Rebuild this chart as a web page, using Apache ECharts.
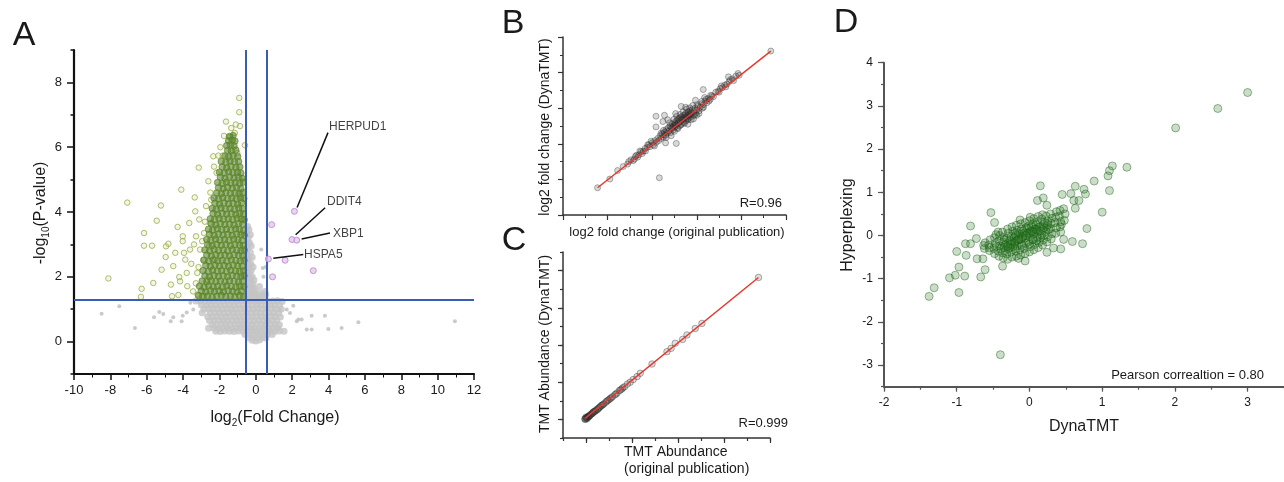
<!DOCTYPE html>
<html>
<head>
<meta charset="utf-8">
<script src="https://cdn.jsdelivr.net/npm/echarts@6/dist/echarts.min.js"></script>
<style>html,body{margin:0;padding:0;background:#fff}#c{width:1284px;height:482px}</style>
</head>
<body>
<div id="c"></div>
<script>
// ---------------- DATA ----------------
// Panel A tick labels
const aXTicks = [-10, -8, -6, -4, -2, 0, 2, 4, 6, 8, 10, 12];
const aYTicks = [0, 2, 4, 6, 8];
// Panel A thresholds
const aFoldCut = [-0.585, 0.585];
const aPCut = 1.301;
// Panel A significant (green) points: sparse outer points
const aGreenSparse = [
  [-8.11,1.95],[-7.07,4.29],[-6.32,1.38],[-6.28,1.63],[-6.15,3.35],[-6.15,2.96],[-5.71,2.96],[-5.64,1.81],
  [-5.45,3.73],[-5.22,4.20],[-5.18,2.22],[-4.96,2.61],[-4.94,2.94],[-4.81,3.02],[-4.67,1.76],[-4.61,1.40],
  [-4.54,2.33],[-4.43,2.74],[-4.30,3.54],[-4.26,1.44],[-4.21,1.99],[-4.17,1.86],[-4.10,4.69],[-4.02,3.25],
  [-4.02,3.10],[-3.95,2.74],[-3.88,2.53],[-3.80,2.12],[-3.77,1.71],[-3.66,3.66],[-3.62,2.84],[-3.36,4.45],
  [-3.33,4.02],[-3.29,3.25],[-3.22,2.12],[-3.14,5.37],[-3.11,3.77],[-3.07,2.84],[-2.96,1.40],[-2.89,2.53],
  [-2.85,3.35],[-2.74,4.18],[-2.67,1.91],[-2.61,4.95],[-2.56,2.94],[-2.52,3.66],[-2.45,4.38],[-2.34,5.72],
  [-2.25,2.53],[-2.16,5.21],[-2.06,5.74],[-1.82,5.74],[-1.64,6.79],[-1.42,6.32],[-1.35,6.59],[-1.16,6.44],
  [-1.02,5.82],[-0.91,7.52],[-0.91,7.08],[-0.87,6.65],[-0.60,6.06],[-3.45,1.55],[-3.55,2.4],[-3.4,3.0],
  [-3.2,1.45],[-3.3,1.8],[-3.15,2.3],[-2.95,3.1],[-2.8,3.7],[-2.5,4.6],[-2.3,5.4],[-1.95,6.0],[-1.75,6.35],[-1.1,6.7]
];
// Panel A significant (green) points: dense core
const aGreenDense = [
  [-3.15,1.42],[-2.9,1.39],[-2.65,1.41],[-2.4,1.38],[-2.15,1.40],[-1.9,1.43],[-1.65,1.39],[-1.4,1.41],[-1.15,1.38],[-0.9,1.42],[-0.68,1.40],
  [-3.0,1.56],[-2.75,1.53],[-2.5,1.57],[-2.28,1.54],[-2.02,1.56],[-1.78,1.53],[-1.52,1.57],[-1.28,1.55],[-1.03,1.53],[-0.8,1.56],
  [-3.1,1.71],[-2.85,1.68],[-2.6,1.72],[-2.35,1.69],[-2.1,1.71],[-1.85,1.68],[-1.6,1.72],[-1.35,1.70],[-1.1,1.68],[-0.88,1.71],[-0.66,1.69],
  [-2.95,1.87],[-2.7,1.84],[-2.45,1.88],[-2.2,1.85],[-1.95,1.87],[-1.7,1.84],[-1.45,1.88],[-1.2,1.86],[-0.95,1.84],[-0.72,1.87],
  [-2.8,2.03],[-2.55,2.0],[-2.3,2.04],[-2.05,2.01],[-1.8,2.03],[-1.55,2.0],[-1.3,2.04],[-1.05,2.02],[-0.82,2.0],[-0.65,2.03],
  [-2.9,2.19],[-2.62,2.16],[-2.38,2.2],[-2.12,2.17],[-1.88,2.19],[-1.62,2.16],[-1.38,2.2],[-1.12,2.18],[-0.9,2.16],[-0.68,2.19],
  [-2.75,2.35],[-2.5,2.32],[-2.25,2.36],[-2.0,2.33],[-1.75,2.35],[-1.5,2.32],[-1.25,2.36],[-1.0,2.34],[-0.76,2.32],
  [-2.85,2.51],[-2.6,2.48],[-2.35,2.52],[-2.1,2.49],[-1.85,2.51],[-1.6,2.48],[-1.35,2.52],[-1.1,2.5],[-0.86,2.48],[-0.65,2.51],
  [-2.7,2.67],[-2.45,2.64],[-2.2,2.68],[-1.95,2.65],[-1.7,2.67],[-1.45,2.64],[-1.2,2.68],[-0.95,2.66],[-0.72,2.64],
  [-2.8,2.83],[-2.55,2.8],[-2.3,2.84],[-2.05,2.81],[-1.8,2.83],[-1.55,2.8],[-1.3,2.84],[-1.05,2.82],[-0.82,2.8],[-0.64,2.83],
  [-2.65,2.99],[-2.4,2.96],[-2.15,3.0],[-1.9,2.97],[-1.65,2.99],[-1.4,2.96],[-1.15,3.0],[-0.9,2.98],[-0.7,2.96],
  [-2.7,3.15],[-2.48,3.12],[-2.22,3.16],[-1.98,3.13],[-1.72,3.15],[-1.48,3.12],[-1.22,3.16],[-0.98,3.14],[-0.76,3.12],
  [-2.55,3.31],[-2.3,3.28],[-2.05,3.32],[-1.8,3.29],[-1.55,3.31],[-1.3,3.28],[-1.05,3.32],[-0.82,3.3],[-0.64,3.28],
  [-2.6,3.47],[-2.38,3.44],[-2.12,3.48],[-1.88,3.45],[-1.62,3.47],[-1.38,3.44],[-1.12,3.48],[-0.9,3.46],[-0.68,3.44],
  [-2.45,3.63],[-2.2,3.6],[-1.95,3.64],[-1.7,3.61],[-1.45,3.63],[-1.2,3.6],[-0.95,3.64],[-0.72,3.62],
  [-2.5,3.79],[-2.28,3.76],[-2.02,3.8],[-1.78,3.77],[-1.52,3.79],[-1.28,3.76],[-1.03,3.8],[-0.8,3.78],[-0.64,3.76],
  [-2.35,3.95],[-2.1,3.92],[-1.85,3.96],[-1.6,3.93],[-1.35,3.95],[-1.1,3.92],[-0.88,3.96],[-0.68,3.94],
  [-2.4,4.11],[-2.18,4.08],[-1.92,4.12],[-1.68,4.09],[-1.42,4.11],[-1.18,4.08],[-0.94,4.12],[-0.72,4.1],
  [-2.25,4.27],[-2.0,4.24],[-1.75,4.28],[-1.5,4.25],[-1.25,4.27],[-1.0,4.24],[-0.78,4.28],
  [-2.3,4.43],[-2.06,4.4],[-1.82,4.44],[-1.56,4.41],[-1.32,4.43],[-1.08,4.4],[-0.85,4.44],[-0.66,4.42],
  [-2.15,4.59],[-1.9,4.56],[-1.65,4.6],[-1.4,4.57],[-1.15,4.59],[-0.92,4.56],[-0.72,4.6],
  [-2.05,4.75],[-1.8,4.72],[-1.55,4.76],[-1.3,4.73],[-1.06,4.75],[-0.82,4.72],
  [-2.1,4.91],[-1.85,4.88],[-1.62,4.92],[-1.38,4.89],[-1.14,4.91],[-0.9,4.88],[-0.7,4.92],
  [-1.95,5.07],[-1.7,5.04],[-1.45,5.08],[-1.2,5.05],[-0.96,5.07],[-0.76,5.04],
  [-2.0,5.23],[-1.75,5.2],[-1.5,5.24],[-1.26,5.21],[-1.02,5.23],[-0.82,5.2],
  [-1.85,5.39],[-1.6,5.36],[-1.36,5.4],[-1.1,5.37],[-0.88,5.39],
  [-1.9,5.56],[-1.65,5.53],[-1.42,5.57],[-1.18,5.54],[-0.95,5.56],
  [-1.7,5.73],[-1.48,5.7],[-1.25,5.74],[-1.0,5.71],
  [-1.55,5.9],[-1.35,5.88],[-1.1,5.91],
  [-1.6,6.05],[-1.4,6.07],[-1.2,6.04],
  [-1.5,6.2],[-1.3,6.22],[-1.15,6.19],
  [-1.45,6.33],[-1.25,6.36]
];
// Panel A non-significant (grey) points: isolated
const aGreyOut = [
  [-8.48,0.86],[-7.51,1.09],[-6.65,0.42],[-5.6,0.75],[-5.31,0.91],[-5.09,0.85],[-4.54,0.75],[-4.02,0.80],
  [-4.08,0.63],[-4.68,0.63],[-3.44,0.99],[2.06,1.11],[1.88,0.88],[2.25,0.63],[3.07,0.80],[3.80,0.80],
  [2.8,0.37],[3.07,0.37],[3.99,0.39],[4.72,0.42],[5.64,0.60],[10.95,0.63],[2.34,0.68],[2.52,0.68],
  [1.70,0.99],[1.33,0.97],[-3.6,1.2],[-3.8,0.9],[0.3,2.84],[0.38,2.27],[0.42,2.0],[0.55,2.3]
];
// Panel A non-significant (grey) points: dense mass
const aGrey = [
  [-3.3,1.25],[-3.05,1.26],[-2.8,1.24],[-2.55,1.25],[-2.3,1.26],[-2.05,1.24],[-1.8,1.25],[-1.55,1.26],[-1.3,1.24],[-1.05,1.25],[-0.8,1.26],
  [-3.0,1.13],[-2.7,1.12],[-2.45,1.14],[-2.2,1.13],[-1.95,1.12],[-1.7,1.14],[-1.45,1.13],[-1.2,1.12],[-0.95,1.14],[-0.7,1.13],
  [-2.85,1.01],[-2.6,1.0],[-2.35,1.02],[-2.1,1.01],[-1.85,1.0],[-1.6,1.02],[-1.35,1.01],[-1.1,1.0],[-0.85,1.02],[-0.62,1.01],
  [-2.95,0.89],[-2.5,0.88],[-2.25,0.9],[-2.0,0.89],[-1.75,0.88],[-1.5,0.9],[-1.25,0.89],[-1.0,0.88],[-0.75,0.9],
  [-2.65,0.77],[-2.4,0.76],[-2.15,0.78],[-1.9,0.77],[-1.65,0.76],[-1.4,0.78],[-1.15,0.77],[-0.9,0.76],[-0.68,0.78],
  [-2.55,0.65],[-2.3,0.64],[-2.05,0.66],[-1.8,0.65],[-1.55,0.64],[-1.3,0.66],[-1.05,0.65],[-0.8,0.64],[-0.6,0.66],
  [-2.4,0.53],[-2.15,0.52],[-1.9,0.54],[-1.65,0.53],[-1.4,0.52],[-1.15,0.54],[-0.9,0.53],[-0.7,0.52],
  [-2.6,0.41],[-2.3,0.42],[-2.05,0.4],[-1.8,0.41],[-1.55,0.42],[-1.3,0.4],[-1.05,0.41],[-0.82,0.42],
  [-2.2,0.32],[-1.95,0.31],[-1.7,0.33],[-1.45,0.32],[-1.2,0.31],[-0.95,0.33],
  [-0.55,1.25],[-0.3,1.26],[-0.05,1.24],[0.2,1.25],[0.45,1.26],[0.7,1.24],[0.95,1.25],[1.2,1.26],[1.45,1.24],
  [-0.45,1.13],[-0.2,1.12],[0.05,1.14],[0.3,1.13],[0.55,1.12],[0.8,1.14],[1.05,1.13],[1.3,1.12],
  [-0.4,1.01],[-0.15,1.0],[0.1,1.02],[0.35,1.01],[0.6,1.0],[0.85,1.02],[1.1,1.01],[1.4,1.0],
  [-0.5,0.89],[-0.25,0.88],[0.0,0.9],[0.25,0.89],[0.5,0.88],[0.75,0.9],[1.0,0.89],[1.25,0.88],
  [-0.45,0.77],[-0.2,0.76],[0.05,0.78],[0.3,0.77],[0.55,0.76],[0.8,0.78],[1.05,0.77],[1.35,0.76],
  [-0.35,0.65],[-0.1,0.64],[0.15,0.66],[0.4,0.65],[0.65,0.64],[0.9,0.66],[1.15,0.65],
  [-0.45,0.53],[-0.2,0.52],[0.05,0.54],[0.3,0.53],[0.55,0.52],[0.8,0.54],[1.05,0.53],[1.3,0.52],
  [-0.55,0.41],[-0.3,0.42],[-0.05,0.4],[0.2,0.41],[0.45,0.42],[0.7,0.4],[0.95,0.41],[1.2,0.42],
  [-0.7,0.32],[-0.45,0.31],[-0.2,0.33],[0.05,0.32],[0.3,0.31],[0.55,0.33],[0.8,0.32],[1.05,0.31],[1.3,0.33],[1.55,0.32],
  [-0.6,0.22],[-0.35,0.21],[-0.1,0.23],[0.15,0.22],[0.4,0.21],[0.65,0.23],[0.9,0.22],
  [-0.4,0.12],[-0.15,0.11],[0.1,0.13],[0.35,0.12],[0.55,0.11],
  [-0.2,0.04],[0.0,0.02],[0.2,0.05],
  [-0.45,3.55],[-0.38,3.45],[-0.3,3.3],[-0.42,3.2],[-0.35,3.05],[-0.25,2.95],[-0.45,2.9],[-0.3,2.75],
  [-0.5,2.7],[-0.2,2.6],[-0.38,2.55],[-0.52,2.45],[-0.28,2.4],[-0.15,2.3],[-0.45,2.25],[-0.35,2.12],
  [-0.55,2.05],[-0.2,2.0],[-0.1,1.9],[-0.42,1.88],[-0.3,1.8],[-0.55,1.72],[-0.18,1.68],[-0.05,1.6],
  [-0.45,1.58],[-0.3,1.5],[-0.55,1.42],[-0.12,1.45],[0.05,1.38],[-0.4,1.35],[-0.22,1.32],[0.1,1.3],
  [-0.5,3.35],[-0.4,3.0],[-0.5,2.55],[-0.35,2.35],[-0.25,2.2],[-0.5,2.15],[-0.4,1.98],[-0.28,1.95],
  [-0.15,1.78],[-0.4,1.7],[-0.25,1.62],[-0.1,1.52],[-0.5,1.5],[0.0,1.45],[-0.3,1.4],[0.2,1.38],
  [0.5,1.55],[0.55,1.45],[0.45,1.35],[0.25,1.5],[0.2,1.7],[0.35,1.42]
];
// Panel A highlighted (pink) points
const aPink = [[2.12,4.02],[1.99,3.15],[2.25,3.13],[0.69,2.55],[0.87,3.61],[1.61,2.51],[0.92,2.0],[3.16,2.19]];
// Panel A gene labels and leader lines
const aLabelNames = ['HERPUD1', 'DDIT4', 'XBP1', 'HSPA5'];
const aLabelPos = [[3.97,6.64],[3.86,4.32],[4.19,3.33],[2.6,2.69]];
const aLeaders = [
  [[2.27,4.14],[3.97,6.45]],
  [[2.19,3.30],[3.81,4.13]],
  [[2.52,3.17],[4.08,3.35]],
  [[0.96,2.57],[2.61,2.69]]
];

// Panel B points (log2 fold change, original vs DynaTMT)
const bPoints = [
  [1.55,1.53],[2.1,2.02],[2.45,2.5],[2.7,2.72],[2.9,2.86],[3.05,3.1],[3.2,3.14],[3.3,3.36],[3.4,3.38],[3.5,3.56],
  [3.6,3.58],[3.68,3.74],[3.78,3.8],[3.85,3.95],[3.9,3.84],[4.0,4.06],[4.05,3.94],[4.12,4.18],[4.18,4.08],[4.25,4.3],
  [4.3,4.18],[4.35,4.45],[4.4,4.3],[4.45,4.55],[4.5,4.38],[4.55,4.65],[4.6,4.48],[4.62,4.8],[4.68,4.6],[4.72,4.9],
  [4.75,4.7],[4.8,5.0],[4.82,4.62],[4.88,4.85],[4.9,5.1],[4.95,4.78],[5.0,5.2],[5.02,4.95],[5.06,5.05],[5.1,5.3],
  [5.12,4.9],[5.16,5.15],[5.2,5.4],[5.22,5.0],[5.26,5.25],[5.3,5.5],[5.32,5.1],[5.36,5.35],[5.4,5.6],[5.42,5.2],
  [5.46,5.45],[5.5,5.7],[5.52,5.3],[5.56,5.55],[5.6,5.78],[5.62,5.42],[5.66,5.62],[5.7,5.85],[5.72,5.5],[5.76,5.7],
  [5.8,5.92],[5.84,5.6],[5.88,5.8],[5.92,6.0],[5.96,5.72],[6.0,5.9],[6.05,6.1],[6.1,5.85],[6.15,6.05],[6.2,6.25],
  [6.25,6.0],[6.3,6.2],[6.38,6.4],[6.45,6.3],[6.52,6.55],[6.6,6.5],[6.68,6.7],[6.75,6.65],[6.85,6.9],[6.95,6.95],
  [7.05,7.1],[7.15,7.15],[7.25,7.3],[7.35,7.35],[7.45,7.5],[7.6,7.65],[7.75,7.8],[7.9,7.85],[9.32,9.21],
  [4.17,5.55],[4.55,5.6],[4.17,4.95],[4.32,2.09],[5.08,4.02],[6.29,7.05],[7.42,7.76],[5.94,6.45],[4.6,4.05],
  [5.3,6.1],[4.48,5.25],[5.05,5.7],[5.6,5.1],[5.85,5.4],[4.85,4.45],[6.35,6.6],[5.5,6.05],[4.7,5.35],[6.0,5.6],
  [4.5,4.75],[4.62,4.35],[4.78,5.18],[4.85,4.95],[4.98,5.38],[5.0,4.7],[5.1,5.55],[5.15,4.85],[5.25,5.65],[5.28,5.05],
  [5.38,5.8],[5.45,5.15],[5.55,5.95],[5.6,5.35],[5.68,6.02],[5.75,5.35],[5.82,6.15],[5.9,5.6],[6.02,6.2],[6.1,5.7],
  [5.2,5.2],[5.35,5.4],[5.45,5.6],[5.55,5.45],[5.65,5.8],[5.75,5.75],[4.95,5.0],[5.05,5.15],[5.25,5.45],[5.48,5.5],
  [4.4,4.6],[4.52,4.5],[4.66,4.72],[6.22,6.38],[6.3,6.05],[6.42,6.5],[6.55,6.4],[6.62,6.72],[3.95,4.15],[4.1,3.88],
  [3.7,3.6],[3.8,3.95],[3.55,3.45],[3.45,3.6],[3.35,3.25],[3.25,3.3],[3.15,3.05],[2.95,3.0],[7.0,6.9],[7.1,7.25],
  [7.3,7.2],[7.5,7.6],[7.65,7.55],[7.85,7.95],[5.15,5.35],[5.4,5.4],[5.6,5.6],[5.7,5.65],[5.0,5.05],[4.9,4.9]
];
const bFit = [[1.55,1.53],[9.32,9.21]];
const bStat = 'R=0.96';

// Panel C points (TMT abundance)
const cPoints = [
  [0.95,1.02],[0.98,1.06],[1.02,1.08],[1.06,1.1],[1.1,1.16],[1.15,1.2],[1.2,1.26],[1.25,1.3],[1.3,1.36],[1.36,1.42],
  [1.42,1.48],[1.48,1.55],[1.55,1.6],[1.62,1.68],[1.7,1.76],[1.78,1.84],[1.86,1.92],[1.95,2.02],[2.05,2.12],[2.15,2.22],
  [2.25,2.32],[2.35,2.42],[2.45,2.55],[2.56,2.64],[2.68,2.76],[2.8,2.9],[2.92,3.0],[3.05,3.14],[3.22,3.30],[3.36,3.48],
  [3.87,3.98],[4.52,4.64],[4.88,5.09],[5.39,5.54],[5.75,5.89],[6.04,6.16],[8.5,8.63],[1.0,1.12],[1.12,1.14],[1.32,1.4],
  [1.5,1.52],[1.66,1.74],[2.0,2.06],[2.6,2.7],[4.7,4.82],[5.2,5.3],[0.97,1.0],[1.04,1.03],[1.08,1.14],[1.18,1.22],
  [1.28,1.33],[1.4,1.44],[1.58,1.64],[1.74,1.8],[1.9,1.98],[2.1,2.16],[2.3,2.36],[2.5,2.58]
];
const cFit = [[0.97,1.07],[8.5,8.63]];
const cStat = 'R=0.999';

// Panel D points (DynaTMT vs Hyperplexing)
const dXTicks = [-2, -1, 0, 1, 2, 3];
const dYTicks = [-3, -2, -1, 0, 1, 2, 3, 4];
const dPoints = [
  [3.0,3.31],[2.59,2.94],[2.01,2.49],[1.34,1.58],[1.14,1.61],[1.10,1.50],[1.08,1.38],[0.89,1.26],[1.10,1.04],
  [1.0,0.54],[0.75,1.07],[0.77,0.96],[0.63,1.14],[0.57,0.97],[0.45,0.95],[0.68,0.81],[0.61,0.81],[0.63,0.63],
  [0.79,0.16],[0.73,-0.19],[0.59,-0.14],[0.47,-0.09],[0.43,0.08],[0.44,0.26],[0.43,-0.31],[0.33,-0.29],
  [0.24,-0.39],[0.15,1.15],[0.19,0.87],[0.11,0.81],[0.24,0.70],[-0.40,-2.76],[-0.53,0.53],[-0.48,0.30],
  [-0.81,0.22],[-0.88,-0.19],[-0.81,-0.19],[-0.73,-0.07],[-1.0,-0.37],[-0.87,-0.46],[-0.72,-0.54],[-0.64,-0.54],
  [-0.97,-0.73],[-0.61,-0.79],[-1.02,-0.92],[-1.10,-0.98],[-0.89,-0.94],[-0.67,-0.96],[-1.31,-1.21],[-1.38,-1.41],
  [-0.97,-1.32],[-0.37,-0.71],[-0.06,-0.59],[-0.15,-0.53],[0.15,-0.05],[0.26,0.14],
  [-0.62,-0.30],[-0.61,-0.17],[-0.63,-0.23],
  [-0.55,-0.35],[-0.56,-0.22],[-0.54,-0.10],[-0.55,-0.28],
  [-0.48,-0.42],[-0.49,-0.30],[-0.47,-0.18],[-0.48,-0.05],[-0.46,0.02],
  [-0.42,-0.48],[-0.43,-0.36],[-0.41,-0.24],[-0.42,-0.12],[-0.41,0.0],[-0.43,0.08],
  [-0.36,-0.52],[-0.37,-0.40],[-0.35,-0.28],[-0.36,-0.16],[-0.35,-0.04],[-0.37,0.08],
  [-0.30,-0.55],[-0.31,-0.43],[-0.29,-0.31],[-0.30,-0.19],[-0.31,-0.07],[-0.29,0.05],[-0.30,0.15],
  [-0.24,-0.50],[-0.25,-0.38],[-0.23,-0.26],[-0.24,-0.14],[-0.25,-0.02],[-0.23,0.10],[-0.24,0.20],
  [-0.18,-0.48],[-0.19,-0.36],[-0.17,-0.24],[-0.18,-0.12],[-0.19,0.0],[-0.17,0.12],[-0.18,0.24],
  [-0.12,-0.45],[-0.13,-0.33],[-0.11,-0.21],[-0.12,-0.09],[-0.13,0.03],[-0.11,0.15],[-0.12,0.27],[-0.13,0.36],
  [-0.06,-0.42],[-0.07,-0.30],[-0.05,-0.18],[-0.06,-0.06],[-0.07,0.06],[-0.05,0.18],[-0.06,0.30],
  [0.0,-0.38],[0.01,-0.26],[-0.01,-0.14],[0.0,-0.02],[0.01,0.10],[-0.01,0.22],[0.0,0.34],[0.01,0.42],
  [0.06,-0.33],[0.07,-0.21],[0.05,-0.09],[0.06,0.03],[0.07,0.15],[0.05,0.27],[0.06,0.39],
  [0.12,-0.28],[0.13,-0.16],[0.11,-0.04],[0.12,0.08],[0.13,0.20],[0.11,0.32],[0.12,0.44],
  [0.18,-0.22],[0.19,-0.10],[0.17,0.02],[0.18,0.14],[0.19,0.26],[0.17,0.38],[0.18,0.48],
  [0.24,-0.15],[0.25,-0.03],[0.23,0.09],[0.24,0.21],[0.25,0.33],[0.23,0.45],
  [0.30,-0.08],[0.31,0.04],[0.29,0.16],[0.30,0.28],[0.31,0.40],[0.29,0.50],
  [0.36,0.05],[0.37,0.18],[0.35,0.30],[0.36,0.42],[0.37,0.55],
  [0.42,0.20],[0.43,0.32],[0.41,0.45],[0.42,0.58],
  [0.48,0.35],[0.49,0.50],[0.47,0.62],
  [-0.33,-0.22],[-0.27,-0.12],[-0.21,-0.05],[-0.15,0.05],[-0.09,0.1],[-0.03,0.16],[0.03,0.2],[0.09,0.25],
  [-0.39,-0.3],[-0.33,-0.35],[-0.27,-0.28],[-0.21,-0.18],[-0.15,-0.1],[-0.09,-0.02],[-0.03,0.05],[0.03,0.1],
  [0.09,0.15],[0.15,0.2],[0.21,0.3],[-0.45,-0.25],[-0.2,-0.3],[-0.1,-0.25],[0.0,-0.2],[0.1,-0.12],
  [-0.3,-0.25],[-0.2,-0.15],[-0.1,-0.05],[0.0,0.05],[0.1,0.12],[0.2,0.18],[-0.25,-0.2],[-0.15,-0.08],
  [-0.05,0.0],[0.05,0.08],[0.15,0.1],[0.25,0.25],[-0.35,-0.1],[-0.2,0.05],[0.05,-0.1],[0.2,0.0]
];
const dStat = 'Pearson correaltion = 0.80';

// ---------------- CHART ----------------
const FONT = '"Liberation Sans", Arial, Helvetica, sans-serif';
const chart = echarts.init(document.getElementById('c'), null, {renderer: 'canvas'});

function txt(x, y, text, size, extra) {
  return Object.assign({
    type: 'text', x: x, y: y, z: 100,
    style: Object.assign({
      text: text, fontSize: size, fontFamily: FONT, fill: '#1a1a1a',
      align: 'center', verticalAlign: 'middle', textAlign: 'center', textVerticalAlign: 'middle'
    }, (extra && extra.style) || {})
  }, extra && extra.rotation !== undefined ? {rotation: extra.rotation} : {});
}

function axis(o) {
  const lc = o.lineColor || '#111';
  return {
    type: 'value', gridIndex: o.grid, min: o.min, max: o.max,
    interval: o.interval, position: o.position,
    axisLine: {show: o.line !== false, onZero: false, lineStyle: {color: lc, width: o.lineWidth || 1.5}},
    axisTick: Object.assign({show: true, inside: false, length: o.tickLen || 5, lineStyle: {color: lc, width: o.tickWidth || 1.2}},
      o.tickValues ? {customValues: o.tickValues} : {}),
    minorTick: o.minor ? {show: true, splitNumber: o.minor, length: o.minorLen || 3, lineStyle: {color: lc, width: 1}} : {show: false},
    axisLabel: Object.assign({show: !!o.labels, margin: o.margin || 8, fontSize: o.fontSize || 12, fontFamily: FONT, color: '#1a1a1a'},
      o.labels ? {customValues: o.labels} : {}),
    splitLine: {show: false}, minorSplitLine: {show: false}
  };
}

const grids = [
  {left: 74, top: 50, width: 400, height: 324},
  {left: 563, top: 37, width: 223, height: 178},
  {left: 563, top: 252, width: 207, height: 186},
  {left: 884, top: 62.7, width: 400, height: 324}
].map(g => Object.assign(g, {containLabel: false, outerBoundsMode: 'none'}));

const xAxes = [
  axis({grid: 0, position: 'bottom', min: -10, max: 12, interval: 2, labels: aXTicks, tickValues: aXTicks, minor: 2, tickLen: 6, minorLen: 3.5, lineWidth: 2.2, tickWidth: 1.5, fontSize: 13, margin: 10}),
  axis({grid: 1, position: 'bottom', min: 0, max: 10, interval: 2, minor: 2, tickLen: 5, minorLen: 3, lineColor: '#333'}),
  axis({grid: 2, position: 'bottom', min: 0, max: 9, tickValues: [1, 3, 5, 7, 9], tickLen: 5, lineColor: '#333'}),
  axis({grid: 2, position: 'bottom', min: 0, max: 9, interval: 1, line: false, tickLen: 3, lineColor: '#333'}),
  axis({grid: 3, position: 'bottom', min: -2, max: 3.5, labels: dXTicks, tickValues: dXTicks, tickLen: 5, lineColor: '#555', lineWidth: 2, fontSize: 12, margin: 10}),
  axis({grid: 3, position: 'bottom', min: -2, max: 3.5, interval: 0.5, line: false, tickLen: 3, lineColor: '#555'})
];
const yAxes = [
  axis({grid: 0, position: 'left', min: -1, max: 9, labels: aYTicks, tickValues: aYTicks, tickLen: 7, lineWidth: 2.2, tickWidth: 1.5, fontSize: 13, margin: 12}),
  axis({grid: 0, position: 'left', min: -1, max: 9, interval: 1, line: false, tickLen: 3.5, tickWidth: 1.5}),
  axis({grid: 1, position: 'left', min: 0, max: 10, interval: 2, minor: 2, tickLen: 5, minorLen: 3, lineColor: '#333'}),
  axis({grid: 2, position: 'left', min: 0, max: 10, tickValues: [1, 3, 5, 7, 9], tickLen: 5, lineColor: '#333'}),
  axis({grid: 2, position: 'left', min: 0, max: 10, interval: 1, line: false, tickLen: 3, lineColor: '#333'}),
  axis({grid: 3, position: 'left', min: -3.5, max: 4, labels: dYTicks, tickValues: dYTicks, tickLen: 6, lineColor: '#555', lineWidth: 2, fontSize: 12, margin: 11}),
  axis({grid: 3, position: 'left', min: -3.5, max: 4, interval: 0.5, line: false, tickLen: 3, lineColor: '#555'})
];

const series = [];
// Panel A
series.push({type: 'scatter', xAxisIndex: 0, yAxisIndex: 0, data: aGreyOut, symbolSize: 4, z: 2,
  itemStyle: {color: '#bdbdbd'}, silent: true});
series.push({type: 'scatter', xAxisIndex: 0, yAxisIndex: 0, data: aGrey, symbolSize: 7, z: 2,
  itemStyle: {color: '#c4c4c4'}, silent: true});
series.push({type: 'scatter', xAxisIndex: 0, yAxisIndex: 0, data: aGreenSparse, symbolSize: 5.5, z: 3,
  itemStyle: {color: 'rgba(210,222,160,0.35)', borderColor: 'rgba(150,170,70,0.95)', borderWidth: 1}, silent: true});
series.push({type: 'scatter', xAxisIndex: 0, yAxisIndex: 0, data: aGreenDense, symbolSize: 6.5, z: 3,
  itemStyle: {color: 'rgba(80,125,35,0.7)', borderColor: 'rgba(100,140,45,0.95)', borderWidth: 1}, silent: true});
series.push({type: 'scatter', xAxisIndex: 0, yAxisIndex: 0, data: [], z: 5, silent: true,
  markLine: {silent: true, symbol: ['none', 'none'], label: {show: false},
    lineStyle: {color: '#3a5cb4', width: 2, type: 'solid'},
    data: [{xAxis: aFoldCut[0]}, {xAxis: aFoldCut[1]}, {yAxis: aPCut}]}});
series.push({type: 'scatter', xAxisIndex: 0, yAxisIndex: 0, data: aPink, symbolSize: 6, z: 6,
  itemStyle: {color: 'rgba(228,196,238,0.95)', borderColor: '#b884cc', borderWidth: 1}, silent: true});
aLeaders.forEach(seg => series.push({type: 'line', xAxisIndex: 0, yAxisIndex: 0, data: seg, symbol: 'none', z: 7,
  lineStyle: {color: '#111', width: 1.5}, silent: true}));
series.push({type: 'scatter', xAxisIndex: 0, yAxisIndex: 0, z: 8, symbolSize: 2, silent: true,
  itemStyle: {color: 'rgba(255,255,255,0)'},
  data: aLabelNames.map((n, i) => ({name: n, value: aLabelPos[i]})),
  label: {show: true, position: 'right', distance: 0, formatter: '{b}', fontSize: 12, fontFamily: FONT, color: '#111'}});
// Panel B
series.push({type: 'scatter', xAxisIndex: 1, yAxisIndex: 2, data: bPoints, symbolSize: 6, z: 3, silent: true,
  itemStyle: {color: 'rgba(40,40,40,0.22)', borderColor: 'rgba(50,50,50,0.6)', borderWidth: 0.8}});
series.push({type: 'line', xAxisIndex: 1, yAxisIndex: 2, data: bFit, symbol: 'none', z: 4, silent: true,
  lineStyle: {color: '#e8392e', width: 1.5}});
// Panel C
series.push({type: 'scatter', xAxisIndex: 2, yAxisIndex: 3, data: cPoints, symbolSize: 6.5, z: 3, silent: true,
  itemStyle: {color: 'rgba(40,40,40,0.18)', borderColor: 'rgba(40,40,40,0.6)', borderWidth: 0.8}});
series.push({type: 'line', xAxisIndex: 2, yAxisIndex: 3, data: cFit, symbol: 'none', z: 4, silent: true,
  lineStyle: {color: '#e8392e', width: 1.5}});
// Panel D
series.push({type: 'scatter', xAxisIndex: 4, yAxisIndex: 5, data: dPoints, symbolSize: 8, z: 3, silent: true,
  itemStyle: {color: 'rgba(35,120,25,0.3)', borderColor: 'rgba(25,90,25,0.55)', borderWidth: 1}});

const subRich = {
  b: {fontSize: 16, fontFamily: FONT, color: '#1a1a1a', lineHeight: 20},
  s: {fontSize: 10, fontFamily: FONT, color: '#1a1a1a', lineHeight: 10, verticalAlign: 'bottom'}
};

const graphic = [
  txt(24, 36, 'A', 34),
  txt(513, 24, 'B', 34),
  txt(514, 241, 'C', 34),
  txt(846, 23, 'D', 34),
  txt(275, 418, '{b|log}{s|2}{b|(Fold Change)}', 16, {style: {rich: subRich}}),
  txt(41, 213, '{b|-log}{s|10}{b|(P-value)}', 16, {style: {rich: subRich}, rotation: Math.PI / 2}),
  txt(545, 127, 'log2 fold change (DynaTMT)', 14, {rotation: Math.PI / 2}),
  txt(677, 232, 'log2 fold change (original publication)', 13),
  txt(782, 203, bStat, 13, {style: {align: 'right', textAlign: 'right'}}),
  txt(545, 344, 'TMT Abundance (DynaTMT)', 14, {rotation: Math.PI / 2}),
  txt(624, 452, 'TMT Abundance', 14, {style: {align: 'left', textAlign: 'left'}}),
  txt(624, 469, '(original publication)', 14, {style: {align: 'left', textAlign: 'left'}}),
  txt(788, 423, cStat, 13, {style: {align: 'right', textAlign: 'right'}}),
  txt(848, 225, 'Hyperplexing', 16, {rotation: Math.PI / 2}),
  txt(1084, 427, 'DynaTMT', 16),
  txt(1264, 375, dStat, 13, {style: {align: 'right', textAlign: 'right'}})
];

chart.setOption({
  animation: false,
  backgroundColor: '#ffffff',
  textStyle: {fontFamily: FONT},
  grid: grids,
  xAxis: xAxes,
  yAxis: yAxes,
  series: series,
  graphic: graphic
});
</script>
</body>
</html>
